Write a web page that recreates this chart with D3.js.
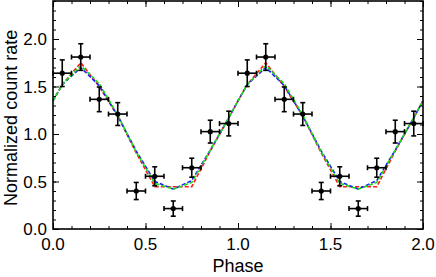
<!DOCTYPE html>
<html lang="en">
  <head>
    <meta charset="UTF-8" />
    <title>Phase curve</title>
    <style>
      body { margin: 0; background: #fff; }
      svg { display: block; font-family: "Liberation Sans", Arial, sans-serif; }
    </style>
  </head>
  <body>
    <script src="https://cdn.jsdelivr.net/npm/d3@7"></script>
    <script>
      // one cycle of the folded light curve (repeated over two cycles)
      const phaseBins = [0.05, 0.15, 0.25, 0.35, 0.45, 0.55, 0.65, 0.75, 0.85, 0.95];
      const rates = [1.64, 1.81, 1.365, 1.21, 0.40, 0.555, 0.215, 0.645, 1.025, 1.11];
      const rateErr = [0.14, 0.14, 0.13, 0.12, 0.09, 0.10, 0.08, 0.10, 0.12, 0.13];
      const phaseErr = 0.05;

      // model curves, sampled at these phases within one cycle
      const modelPhase = [0.0, 0.05, 0.15, 0.25, 0.35, 0.45, 0.55, 0.65, 0.75, 0.85, 0.95];
      const modelRed = [1.35, 1.52, 1.75, 1.50, 1.19, 0.80, 0.445, 0.445, 0.445, 0.82, 1.17];
      const modelBlue = [1.35, 1.52, 1.70, 1.51, 1.19, 0.82, 0.50, 0.42, 0.51, 0.83, 1.17];
      const modelGreen = [1.35, 1.52, 1.72, 1.53, 1.20, 0.81, 0.48, 0.42, 0.49, 0.83, 1.17];

      const xTicks = [0.0, 0.5, 1.0, 1.5, 2.0];
      const yTicks = [0.0, 0.5, 1.0, 1.5, 2.0];
      const cycles = [0, 1];

      const width = 436, height = 277;
      const margin = { left: 53, right: 13, top: 1, bottom: 48 };

      const svg = d3.select("body").append("svg")
        .attr("width", width).attr("height", height);

      const x = d3.scaleLinear().domain([0, 2]).range([margin.left, width - margin.right]);
      const y = d3.scaleLinear().domain([0, 2.4]).range([height - margin.bottom, margin.top]);

      // points over both cycles
      const points = [];
      cycles.forEach((c) => {
        phaseBins.forEach((p, i) => {
          points.push({ phase: p + c, rate: rates[i], err: rateErr[i] });
        });
      });

      function modelSeries(vals) {
        const out = [];
        cycles.forEach((c) => {
          modelPhase.forEach((p, i) => out.push([p + c, vals[i]]));
        });
        out.push([2.0, vals[0]]);
        return out;
      }

      const line = d3.line().x((d) => x(d[0])).y((d) => y(d[1]));

      const models = [
        { vals: modelRed, color: "#ff1a1a" },
        { vals: modelBlue, color: "#1a1aff" },
        { vals: modelGreen, color: "#1adc1a" },
      ];

      svg.append("g").selectAll("path")
        .data(models)
        .join("path")
        .attr("d", (d) => line(modelSeries(d.vals)))
        .attr("fill", "none")
        .attr("stroke", (d) => d.color)
        .attr("stroke-width", 1.6)
        .attr("stroke-dasharray", "4,2");

      // error bars
      const eb = svg.append("g").attr("stroke", "#000").attr("stroke-width", 1.6);
      const cap = 2.5;
      points.forEach((d) => {
        const cx = x(d.phase), cy = y(d.rate);
        const x0 = x(d.phase - phaseErr), x1 = x(d.phase + phaseErr);
        const y0 = y(d.rate - d.err), y1 = y(d.rate + d.err);
        eb.append("line").attr("x1", x0).attr("x2", x1).attr("y1", cy).attr("y2", cy);
        eb.append("line").attr("x1", cx).attr("x2", cx).attr("y1", y0).attr("y2", y1);
        eb.append("line").attr("x1", x0).attr("x2", x0).attr("y1", cy - cap).attr("y2", cy + cap);
        eb.append("line").attr("x1", x1).attr("x2", x1).attr("y1", cy - cap).attr("y2", cy + cap);
        eb.append("line").attr("x1", cx - cap).attr("x2", cx + cap).attr("y1", y0).attr("y2", y0);
        eb.append("line").attr("x1", cx - cap).attr("x2", cx + cap).attr("y1", y1).attr("y2", y1);
      });

      svg.append("g").selectAll("circle")
        .data(points)
        .join("circle")
        .attr("cx", (d) => x(d.phase))
        .attr("cy", (d) => y(d.rate))
        .attr("r", 2.6)
        .attr("fill", "#000");

      // axes with inward ticks on all four sides
      const plotW = width - margin.left - margin.right;
      const plotH = height - margin.top - margin.bottom;
      const xMinor = d3.range(0, 2.0001, 0.1);
      const yMinor = d3.range(0, 2.4001, 0.1);

      function frameAxis(axis, transform) {
        svg.append("g").attr("transform", transform).call(axis)
          .call((g) => g.select(".domain").remove())
          .call((g) => g.selectAll("line").attr("stroke", "#000").attr("stroke-width", 1));
      }

      const atBottom = `translate(0,${height - margin.bottom})`;
      const atTop = `translate(0,${margin.top})`;
      const atLeft = `translate(${margin.left},0)`;
      const atRight = `translate(${width - margin.right},0)`;

      frameAxis(d3.axisBottom(x).tickValues(xMinor).tickSize(-3).tickFormat(""), atBottom);
      frameAxis(d3.axisBottom(x).tickValues(xTicks).tickSize(-6).tickFormat(""), atBottom);
      frameAxis(d3.axisTop(x).tickValues(xMinor).tickSize(-3).tickFormat(""), atTop);
      frameAxis(d3.axisTop(x).tickValues(xTicks).tickSize(-6).tickFormat(""), atTop);
      frameAxis(d3.axisLeft(y).tickValues(yMinor).tickSize(-3).tickFormat(""), atLeft);
      frameAxis(d3.axisLeft(y).tickValues(yTicks).tickSize(-6).tickFormat(""), atLeft);
      frameAxis(d3.axisRight(y).tickValues(yMinor).tickSize(-3).tickFormat(""), atRight);
      frameAxis(d3.axisRight(y).tickValues(yTicks).tickSize(-6).tickFormat(""), atRight);

      svg.append("rect")
        .attr("x", margin.left).attr("y", margin.top)
        .attr("width", plotW).attr("height", plotH)
        .attr("fill", "none").attr("stroke", "#000").attr("stroke-width", 1.6);

      // tick labels
      svg.append("g").selectAll("text")
        .data(xTicks)
        .join("text")
        .attr("x", (d) => x(d))
        .attr("y", height - margin.bottom + 21)
        .attr("text-anchor", "middle")
        .attr("font-size", 17)
        .text((d) => d.toFixed(1));

      svg.append("g").selectAll("text")
        .data(yTicks)
        .join("text")
        .attr("x", margin.left - 6)
        .attr("y", (d) => y(d) + 6)
        .attr("text-anchor", "end")
        .attr("font-size", 17)
        .text((d) => d.toFixed(1));

      svg.append("text")
        .attr("x", x(1))
        .attr("y", 272)
        .attr("text-anchor", "middle")
        .attr("font-size", 18)
        .text("Phase");

      svg.append("text")
        .attr("transform", `translate(17,${y(1.17)}) rotate(-90)`)
        .attr("text-anchor", "middle")
        .attr("font-size", 18)
        .text("Normalized count rate");
    </script>
  </body>
</html>
